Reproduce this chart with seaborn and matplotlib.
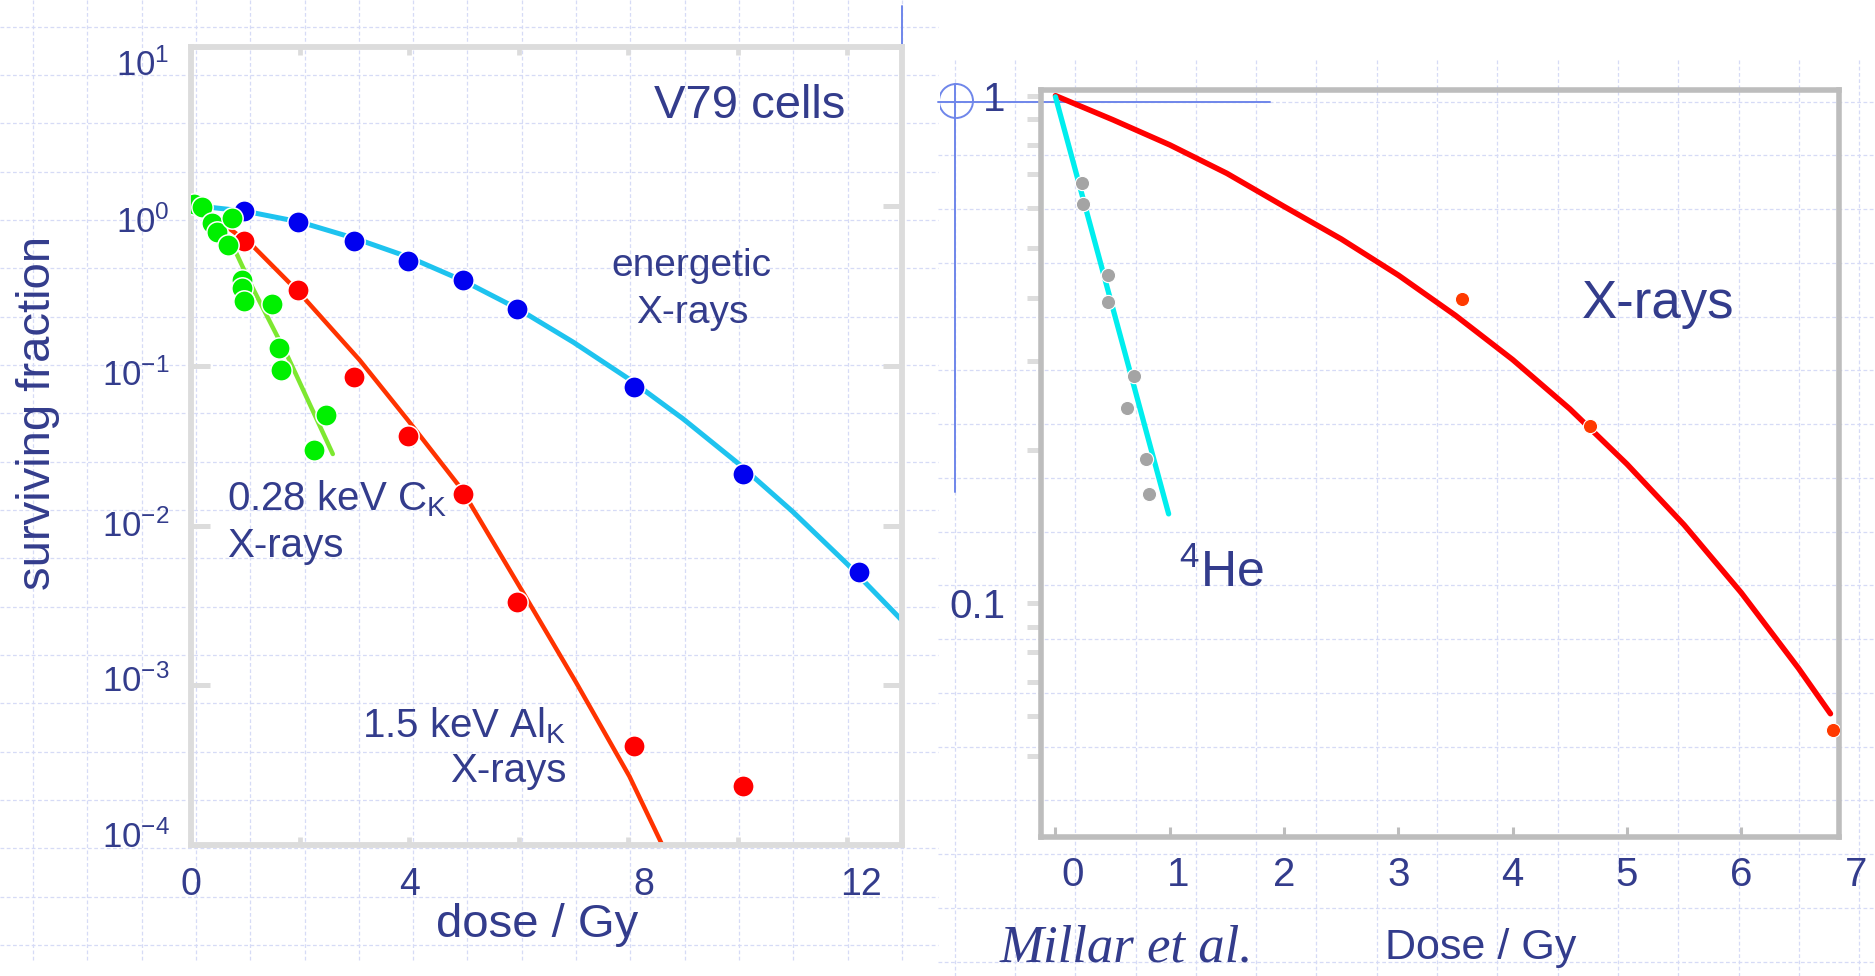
import numpy as np
import matplotlib
matplotlib.use("Agg")
import matplotlib.pyplot as plt
import seaborn as sns
from matplotlib.ticker import FixedLocator, NullLocator, NullFormatter
from matplotlib.transforms import blended_transform_factory, ScaledTranslation
from matplotlib.patches import Circle, Rectangle

# ---------------- data ----------------
# Left panel: V79 cells, surviving fraction vs dose (Gy)
energetic_dose = [0.98, 1.96, 2.98, 3.98, 4.98, 5.97, 8.11, 10.10, 12.21]
energetic_sf = [0.936, 0.802, 0.610, 0.457, 0.346, 0.227, 0.0742, 0.0210, 0.00511]
energetic_fit_dose = [0.26, 1, 2, 3, 4, 5, 6, 7, 8, 9, 10, 11, 12, 13]
energetic_fit_sf = [0.995, 0.933, 0.798, 0.631, 0.479, 0.340, 0.2265, 0.1406, 0.0834,
                    0.0467, 0.02466, 0.01227, 0.00575, 0.00255]

alk_dose = [0.98, 1.97, 2.98, 3.97, 4.98, 5.97, 8.11, 10.10]
alk_sf = [0.604, 0.299, 0.0850, 0.0366, 0.0159, 0.00334, 0.000419, 0.000234]
alk_fit_dose = [0.40, 0.72, 1.12, 2.00, 3.09, 3.97, 4.95, 6.05, 7.04, 8.02, 8.62]
alk_fit_sf = [0.87, 0.721, 0.573, 0.285, 0.109, 0.0459, 0.0170, 0.00395, 0.00105, 0.000269, 0.0001]

ck_dose = [0.06, 0.21, 0.40, 0.49, 0.75, 0.69, 0.95, 0.95, 0.97, 1.48, 1.62, 1.65, 2.47, 2.26]
ck_sf = [1.03, 0.99, 0.79, 0.69, 0.84, 0.57, 0.346, 0.31, 0.257, 0.245, 0.130, 0.0945, 0.0493, 0.0298]
ck_fit_dose = [0.06, 0.81, 1.09, 1.79, 2.60]
ck_fit_sf = [1.03, 0.533, 0.331, 0.112, 0.0281]

left_yticks = [1e-4, 1e-3, 1e-2, 1e-1, 1e0, 1e1]
left_ytick_labels = [r"$10^{-4}$", r"$10^{-3}$", r"$10^{-2}$", r"$10^{-1}$", r"$10^{0}$", r"$10^{1}$"]
left_xticks = [0, 2, 4, 6, 8, 10, 12]
left_xtick_labels = ["0", "", "4", "", "8", "", "12"]

# Right panel: Millar et al.
he_dose = [0.23, 0.24, 0.46, 0.46, 0.69, 0.63, 0.79, 0.82]
he_sf = [0.672, 0.612, 0.443, 0.393, 0.281, 0.243, 0.192, 0.164]
he_fit_dose = [0.0, 0.99]
he_fit_sf = [0.995, 0.150]

xr_dose = [3.56, 4.68, 6.80]
xr_sf = [0.398, 0.224, 0.0563]
xr_fit_dose = [0.0, 0.5, 1.0, 1.5, 2.0, 2.5, 3.0, 3.5, 4.0, 4.5, 5.0, 5.5, 6.0, 6.5, 6.78]
xr_fit_sf = [1.0, 0.897, 0.800, 0.703, 0.605, 0.522, 0.443, 0.369, 0.302, 0.2415, 0.188,
             0.1427, 0.1049, 0.0745, 0.0606]

right_major = [0.1, 1.0]
right_major_labels = ["0.1", "1"]
right_minor = [0.05, 0.06, 0.07, 0.08, 0.09, 0.2, 0.3, 0.4, 0.5, 0.6, 0.7, 0.8, 0.9]
right_xticks = [0, 1, 2, 3, 4, 5, 6]
right_xtick_labels = ["0", "1", "2", "3", "4", "5", "6"]

# ---------------- style ----------------
sns.set_theme(style="white")
plt.rcParams["font.family"] = ["Liberation Sans", "DejaVu Sans"]
plt.rcParams["mathtext.fontset"] = "custom"
plt.rcParams["mathtext.rm"] = "Liberation Sans"
plt.rcParams["mathtext.it"] = "Liberation Sans:italic"
plt.rcParams["mathtext.default"] = "regular"

NAVY = "#333c8c"
W, H = 1875, 976
fig = plt.figure(figsize=(W / 100, H / 100), dpi=100)
fig.patch.set_facecolor("white")

def frac_box(x0, y0, x1, y1):
    return [x0 / W, 1 - y1 / H, (x1 - x0) / W, (y1 - y0) / H]

def shift(label, dx_px, dy_px):
    label.set_transform(label.get_transform() +
                        ScaledTranslation(dx_px / 100, dy_px / 100, fig.dpi_scale_trans))

# background slide grid (decoration)
bg = fig.add_axes([0, 0, 1, 1], zorder=0)
bg.set_xlim(0, W)
bg.set_ylim(H, 0)
bg.axis("off")
gkw = dict(colors="#d6dbf6", linewidth=0.9, linestyles=(0, (3, 2)))
bg.vlines(np.arange(33, 939, 54.3), 0, 960, **gkw)
bg.hlines(np.arange(26.7, 960, 48.33), 0, 938, **gkw)
bg.vlines(np.arange(954.7, W, 60.3), 60, H, **gkw)
bg.hlines(np.arange(101.7, H, 53.75), 938, W, **gkw)
# blue construction marks from the original slide
BL = "#6f86ea"
bg.plot([938, 1270], [101.7, 101.7], color=BL, lw=1.4)
bg.plot([955, 955], [84, 492], color=BL, lw=1.4)
bg.plot([902, 902], [6, 46], color=BL, lw=1.4)
circ = Circle((956, 101), 17, fill=False, edgecolor=BL, lw=1.4)
bg.add_patch(circ)
clip = Rectangle((940, 60), 60, 80, transform=bg.transData, visible=False)
bg.add_patch(clip)
circ.set_clip_path(clip)

# ---------------- left panel ----------------
axL = fig.add_axes(frac_box(190.5, 46.7, 902, 845), zorder=2)
axL.patch.set_alpha(0)
axL.set_yscale("log")

sns.lineplot(x=energetic_fit_dose, y=energetic_fit_sf, ax=axL, color="#1ec3ef", lw=3.6,
             estimator=None, sort=False, legend=False, zorder=2)
sns.lineplot(x=alk_fit_dose, y=alk_fit_sf, ax=axL, color="#ff3300", lw=3.2,
             estimator=None, sort=False, legend=False, zorder=2)
sns.lineplot(x=ck_fit_dose, y=ck_fit_sf, ax=axL, color="#7de830", lw=3.2,
             estimator=None, sort=False, legend=False, zorder=2)
mk = dict(s=235, edgecolor="white", linewidth=1.1, legend=False, zorder=3)
sns.scatterplot(x=energetic_dose, y=energetic_sf, ax=axL, color="#0000f0", **mk)
sns.scatterplot(x=alk_dose, y=alk_sf, ax=axL, color="#ff0000", **mk)
sns.scatterplot(x=ck_dose, y=ck_sf, ax=axL, color="#00f000", **mk)

axL.set_xlim(0, 13)
axL.set_ylim(1e-4, 10)
axL.yaxis.set_major_locator(FixedLocator(left_yticks))
axL.set_yticklabels(left_ytick_labels)
axL.yaxis.set_minor_locator(NullLocator())
axL.set_xticks(left_xticks)
axL.set_xticklabels(left_xtick_labels)
axL.tick_params(axis="y", which="major", direction="in", length=14, width=3.6, color="#dcdcdc",
                left=True, right=True, labelsize=25, labelcolor=NAVY, pad=15)
axL.tick_params(axis="x", which="major", direction="in", length=6, width=3.4, color="#dcdcdc",
                top=True, bottom=True, labelsize=27, labelcolor=NAVY, pad=16)
for s in axL.spines.values():
    s.set_color("#dcdcdc")
    s.set_linewidth(4.2)
axL.set_xlabel("")
axL.set_ylabel("")
for lab, dy in zip(axL.get_yticklabels(), [11, 7, 2.4, -6, -13, -15.5]):
    shift(lab, 0, dy)
for lab, dx in zip(axL.get_xticklabels(), [0, 0, 0, 0, 15, 0, 14]):
    shift(lab, dx, 0)

axL.text(10.21, 3.576, "V79 cells", ha="center", va="baseline", fontsize=34, color=NAVY)
axL.text(9.16, 0.3664, "energetic", ha="center", va="baseline", fontsize=28, color=NAVY)
axL.text(9.16, 0.1862, "X-rays", ha="center", va="baseline", fontsize=28, color=NAVY)
axL.text(0.661, 0.01253, r"0.28 keV C$_{K}$", ha="left", va="baseline", fontsize=29, color=NAVY)
axL.text(0.661, 0.00637, "X-rays", ha="left", va="baseline", fontsize=29, color=NAVY)
axL.text(6.87, 4.746e-4, r"1.5 keV Al$_{K}$", ha="right", va="baseline", fontsize=29, color=NAVY)
axL.text(6.87, 2.48e-4, "X-rays", ha="right", va="baseline", fontsize=29, color=NAVY)

fig.text(38 / W, 1 - 413 / H, "surviving fraction", rotation=90, ha="center", va="center",
         fontsize=34, color=NAVY)
fig.text(537.5 / W, 1 - 925 / H, "dose / Gy", ha="center", va="center", fontsize=34, color=NAVY)

# ---------------- right panel ----------------
axR = fig.add_axes(frac_box(1041.3, 90, 1839, 836.8), zorder=2)
axR.patch.set_alpha(0)
axR.set_yscale("log")

sns.lineplot(x=xr_fit_dose, y=xr_fit_sf, ax=axR, color="#ff0000", lw=4.0,
             estimator=None, sort=False, legend=False, zorder=2)
sns.lineplot(x=he_fit_dose, y=he_fit_sf, ax=axR, color="#00eeee", lw=3.8,
             estimator=None, sort=False, legend=False, zorder=2)
sns.scatterplot(x=he_dose, y=he_sf, ax=axR, color="#a4a4a4", s=105, edgecolor="white",
                linewidth=0.8, legend=False, zorder=3)
sns.scatterplot(x=xr_dose, y=xr_sf, ax=axR, color="#ff3a00", s=105, edgecolor="white",
                linewidth=0.8, legend=False, zorder=3)

axR.set_xlim(-0.124, 6.855)
axR.set_ylim(0.03467, 1.0262)
axR.yaxis.set_major_locator(FixedLocator(right_major))
axR.set_yticklabels(right_major_labels)
axR.yaxis.set_minor_locator(FixedLocator(right_minor))
axR.yaxis.set_minor_formatter(NullFormatter())
axR.set_xticks(right_xticks)
axR.set_xticklabels(right_xtick_labels)
axR.tick_params(axis="y", which="both", direction="out", length=10, width=3.6, color="#dddddd",
                left=True, right=False, labelsize=29, labelcolor=NAVY, pad=16)
axR.tick_params(axis="x", which="major", direction="in", length=7, width=2.2, color="#bdbdbd",
                bottom=True, top=False, labelsize=29, labelcolor=NAVY, pad=14)
for s in axR.spines.values():
    s.set_color("#bdbdbd")
    s.set_linewidth(4.0)
axR.set_xlabel("")
axR.set_ylabel("")
for lab, dx in zip(axR.get_xticklabels(), [17, 8, 0, 0, 0, 0, 0]):
    shift(lab, dx, 0)

trR = blended_transform_factory(axR.transData, axR.transAxes)
axR.text(7, -14 / 72 * 100 / (836.8 - 90), "7", transform=trR, ha="center", va="top",
         fontsize=29, color=NAVY, clip_on=False)

axR.text(4.604, 0.3642, "X-rays", ha="left", va="baseline", fontsize=38, color=NAVY)
axR.text(1.08, 0.1078, r"$^{4}$He", ha="left", va="baseline", fontsize=36, color=NAVY)

fig.text(1481 / W, 1 - 948 / H, "Dose / Gy", ha="center", va="center", fontsize=31, color=NAVY)
fig.text(1126 / W, 1 - 949 / H, "Millar et al.", ha="center", va="center", fontsize=38,
         color=NAVY, family=["Liberation Serif", "DejaVu Serif"], style="italic")

fig.savefig("out.png", dpi=100, facecolor="white")
